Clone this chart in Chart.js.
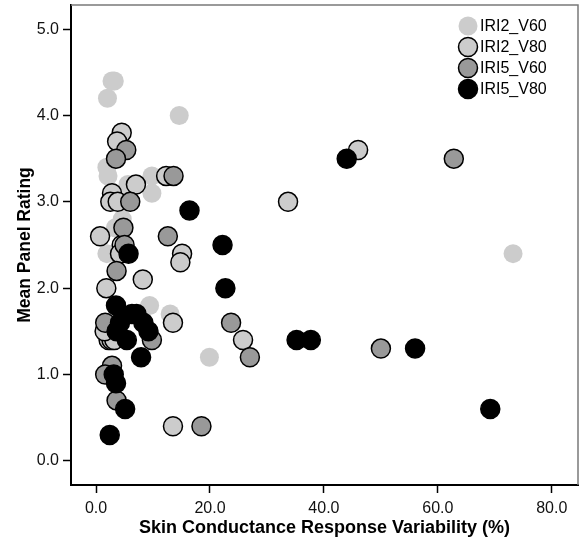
<!DOCTYPE html>
<html>
<head>
<meta charset="utf-8">
<script src="https://cdn.jsdelivr.net/npm/chart.js@4"></script>
<style>
  html, body { margin: 0; padding: 0; background: #fff; }
</style>
</head>
<body>
<canvas id="scatterChart" width="582" height="539"></canvas>
<script>
// Series values (x = SCR variability %, y = mean panel rating)
const iri2v60X = [2.8, 3.2, 2.0, 14.6, 1.9, 2.1, 9.8, 9.8, 5.6, 4.6, 3.4, 1.9, 9.4, 13.0, 19.9, 73.2, 1.6];
const iri2v60Y = [4.4, 4.4, 4.2, 4.0, 3.4, 3.3, 3.3, 3.1, 3.2, 2.8, 2.7, 2.4, 1.8, 1.7, 1.2, 2.4, 1.5];

const iri2v80X = [4.5, 3.7, 2.8, 2.5, 3.8, 7.0, 12.3, 0.7, 33.7, 15.1, 14.8, 46.0, 1.8, 8.2, 13.5, 13.5, 25.8, 2.2, 2.7, 3.2, 1.5, 4.5, 4.2];
const iri2v80Y = [3.8, 3.7, 3.1, 3.0, 3.0, 3.2, 3.3, 2.6, 3.0, 2.4, 2.3, 3.6, 2.0, 2.1, 1.6, 0.4, 1.4, 1.4, 1.4, 1.4, 1.5, 2.5, 2.4];

const iri5v60X = [5.3, 3.5, 13.6, 6.0, 4.8, 5.0, 12.6, 3.6, 1.6, 9.8, 23.7, 27.0, 2.8, 1.6, 3.6, 18.5, 62.8, 50.0];
const iri5v60Y = [3.6, 3.5, 3.3, 3.0, 2.7, 2.5, 2.6, 2.2, 1.6, 1.4, 1.6, 1.2, 1.1, 1.0, 0.7, 0.4, 3.5, 1.3];

const iri5v80X = [2.4, 5.1, 3.5, 3.1, 7.9, 22.7, 3.5, 4.2, 3.6, 5.4, 6.3, 7.1, 8.3, 9.2, 5.7, 16.4, 22.2, 44.0, 35.2, 37.7, 56.0, 69.2];
const iri5v80Y = [0.3, 0.6, 0.9, 1.0, 1.2, 2.0, 1.8, 1.6, 1.5, 1.4, 1.7, 1.7, 1.6, 1.5, 2.4, 2.9, 2.5, 3.5, 1.4, 1.4, 1.3, 0.6];

const seriesLabels = ['IRI2_V60', 'IRI2_V80', 'IRI5_V60', 'IRI5_V80'];

// Tick labels
const xTicks = [0, 20, 40, 60, 80];
const yTicks = [0, 1, 2, 3, 4, 5];

function toPoints(xs, ys) {
    return xs.map((x, i) => ({ x: x, y: ys[i] }));
}

// Gray frame on top/right
const framePlugin = {
    id: 'frame',
    beforeDatasetsDraw(chart) {
        const { ctx, chartArea: a } = chart;
        ctx.save();
        ctx.strokeStyle = '#7a7a7a';
        ctx.lineWidth = 1.5;
        ctx.beginPath();
        ctx.moveTo(a.left, a.top);
        ctx.lineTo(a.right, a.top);
        ctx.lineTo(a.right, a.bottom);
        ctx.stroke();
        ctx.restore();
    }
};

// Legend in the upper right corner of the plot
const legendPlugin = {
    id: 'cornerLegend',
    afterDraw(chart) {
        const ctx = chart.ctx;
        ctx.save();
        ctx.font = '16px "Liberation Sans", Arial, sans-serif';
        ctx.textBaseline = 'middle';
        ctx.textAlign = 'left';
        chart.data.datasets.forEach((ds, i) => {
            const cx = 468;
            const cy = 26 + i * 21;
            ctx.beginPath();
            ctx.arc(cx, cy, 9.5, 0, Math.PI * 2);
            ctx.fillStyle = ds.backgroundColor;
            ctx.fill();
            if (ds.borderWidth > 0) {
                ctx.lineWidth = ds.borderWidth;
                ctx.strokeStyle = ds.borderColor;
                ctx.stroke();
            }
            ctx.fillStyle = '#000';
            ctx.fillText(ds.label, 480, cy + 1);
        });
        ctx.restore();
    }
};

// drop the extra room Chart.js keeps for edge labels
function noEdgePadding(scale) {
    scale.paddingTop = 0;
    scale.paddingBottom = 0;
    scale.paddingLeft = 0;
    scale.paddingRight = 0;
}

const tickFont = { family: '"Liberation Sans", Arial, sans-serif', size: 16 };
const xTitleFont = { family: '"Liberation Sans", Arial, sans-serif', size: 18, weight: 'bold', lineHeight: 1.2 };
const yTitleFont = { family: '"Liberation Sans", Arial, sans-serif', size: 17.5, weight: 'bold', lineHeight: 1.2 };

const ctx = document.getElementById('scatterChart').getContext('2d');
new Chart(ctx, {
    type: 'scatter',
    data: {
        datasets: [
            {
                label: seriesLabels[0],
                data: toPoints(iri2v60X, iri2v60Y),
                backgroundColor: '#cccccc',
                borderColor: '#cccccc',
                borderWidth: 0,
                pointRadius: 9.5,
                order: 4
            },
            {
                label: seriesLabels[1],
                data: toPoints(iri2v80X, iri2v80Y),
                backgroundColor: '#cccccc',
                borderColor: '#000000',
                borderWidth: 1.5,
                pointRadius: 9.5,
                order: 3
            },
            {
                label: seriesLabels[2],
                data: toPoints(iri5v60X, iri5v60Y),
                backgroundColor: '#999999',
                borderColor: '#000000',
                borderWidth: 1.5,
                pointRadius: 9.5,
                order: 2
            },
            {
                label: seriesLabels[3],
                data: toPoints(iri5v80X, iri5v80Y),
                backgroundColor: '#000000',
                borderColor: '#000000',
                borderWidth: 1.5,
                pointRadius: 9.5,
                order: 1
            }
        ]
    },
    options: {
        responsive: false,
        animation: false,
        devicePixelRatio: 1,
        layout: { autoPadding: false, padding: { top: 5, right: 4, left: 0, bottom: 0 } },
        scales: {
            x: {
                type: 'linear',
                min: -4.4,
                max: 84.6,
                afterBuildTicks: scale => { scale.ticks = xTicks.map(v => ({ value: v })); },
                afterFit: scale => { scale.height = 54; noEdgePadding(scale); },
                ticks: {
                    color: '#111',
                    font: tickFont,
                    padding: 6,
                    maxRotation: 0,
                    callback: v => v.toFixed(1)
                },
                grid: {
                    drawOnChartArea: false,
                    drawTicks: true,
                    tickLength: 8,
                    tickColor: '#000',
                    tickWidth: 1.5
                },
                border: { color: '#000', width: 2 },
                title: {
                    display: true,
                    text: 'Skin Conductance Response Variability (%)',
                    color: '#000',
                    font: xTitleFont,
                    padding: { top: 0, bottom: 0 }
                }
            },
            y: {
                type: 'linear',
                min: -0.28,
                max: 5.28,
                afterBuildTicks: scale => { scale.ticks = yTicks.map(v => ({ value: v })); },
                afterFit: scale => { scale.width = 71; noEdgePadding(scale); },
                ticks: {
                    color: '#111',
                    font: tickFont,
                    padding: 4,
                    callback: v => v.toFixed(1)
                },
                grid: {
                    drawOnChartArea: false,
                    drawTicks: true,
                    tickLength: 8,
                    tickColor: '#000',
                    tickWidth: 1.5
                },
                border: { color: '#000', width: 2 },
                title: {
                    display: true,
                    text: 'Mean Panel Rating',
                    color: '#000',
                    font: yTitleFont,
                    padding: { top: 15, bottom: 0 }
                }
            }
        },
        plugins: {
            legend: { display: false },
            tooltip: { enabled: false }
        }
    },
    plugins: [framePlugin, legendPlugin]
});
</script>
</body>
</html>
